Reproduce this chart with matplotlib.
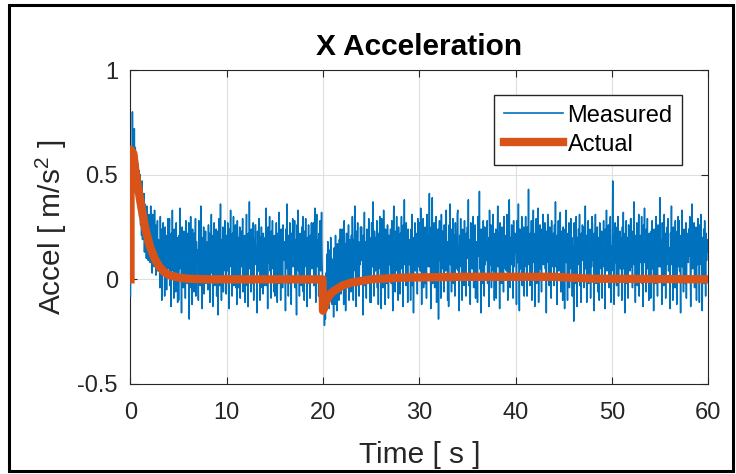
import matplotlib
matplotlib.use("Agg")
import matplotlib.pyplot as plt
import numpy as np
from matplotlib.patches import Rectangle

# measured acceleration, 20 samples per second over 0..60 s, in hundredths of m/s^2
measured_raw = [
    -8, 45, 62, 40, 80, 52, 70, 48, 72, 46, 63, 42, 60, 38, 57, 36, 55, 33, 52, 30,
    50, 26, 44, 21, 47, 19, 38, 24, 41, 13, 36, 18, 30, 10, 35, 15, 27, 9, 31, 12,
    29, 8, 35, 14, 24, 3, 31, 12, 20, 6, 33, 10, 26, 2, 22, 13, 28, 4, 19, 9,
    18, -4, 30, 11, 24, -10, 20, 7, 27, 3, 16, -8, 25, 9, 21, -5, 17, 6, 29, 5,
    15, 29, -3, 19, -13, 22, 4, 33, 7, 16, -9, 24, 9, 18, -6, 27, 6, 14, -11, 20,
    -10, 21, 5, 34, 8, 18, -16, 25, 10, 14, -4, 23, 7, 19, -9, 28, 11, 16, -2, 22,
    3, 27, -19, 17, 4, 30, -4, 19, -12, 24, 8, 15, -6, 22, 6, 29, -8, 18, 9, 14,
    12, -10, 28, 6, 16, -3, 35, 4, 20, -14, 14, 8, 25, -7, 19, 10, 23, -2, 17, 5,
    18, -5, 26, 7, 22, -11, 14, 9, 31, 3, 17, -13, 21, 11, 27, -3, 15, 6, 24, -8,
    5, 23, -17, 17, 29, -3, 13, 36, 8, -10, 19, 6, 25, -6, 16, 10, 28, 4, 12, -7,
    21, 4, 27, 10, 15, -14, 24, 12, 33, 6, 18, -8, 22, 9, 30, -3, 14, 7, 26, -4,
    17, -12, 28, 9, 20, -4, 14, 25, -9, 19, 6, 23, 11, 29, -6, 16, 8, 21, -11, 13,
    8, 31, -3, 13, -13, 22, 5, 37, 11, 18, -6, 24, 7, 16, -2, 27, -10, 19, 10, 26,
    26, 7, 15, -16, 23, 12, 4, 29, 16, -10, 20, -4, 25, 9, 17, -7, 22, 6, 14, -3,
    20, 10, 34, -3, 17, -14, 25, 8, 13, 30, 4, 19, -9, 23, 11, 28, 5, 15, -6, 21,
    -8, 19, 6, 27, 11, -11, 22, 14, -2, 32, 7, 16, -10, 24, 9, 20, -4, 26, 12, 18,
    9, 18, -15, 24, 12, 36, 5, 16, -8, 21, 8, 27, -2, 14, -12, 22, 10, 29, 6, 17,
    13, 28, -4, 19, 7, -17, 26, 10, 33, 4, 15, -8, 22, 9, 18, -3, 25, 11, 30, -6,
    17, -10, 23, 11, 29, 6, 15, -13, 20, 9, 26, -2, 14, -9, 21, 8, 27, 5, 16, 12,
    27, -3, 18, 34, 8, -11, 24, 31, 12, 6, 19, -8, 22, 10, 28, 4, 16, 32, 9, -2,
    -4, -14, 0, -22, -10, -19, 3, -13, 12, -9, 18, -7, 8, -14, 14, -5, 20, -3, 10, -12,
    -8, 9, -18, 15, 2, -12, 21, -4, 11, -15, 17, 3, 13, -10, 19, 6, 24, -7, 12, 4,
    24, -2, 13, -12, 28, 6, 17, -15, 10, 22, -4, 15, 7, 26, -10, 19, 9, 14, -6, 21,
    -4, 30, 8, -10, 19, 12, 35, 4, 16, -13, 23, 10, 27, -3, 18, -8, 14, 7, 25, 11,
    25, 9, 14, -17, 21, 7, 32, -3, 18, 11, -9, 24, 8, 16, -2, 29, 12, 20, -11, 15,
    -11, 27, 13, 6, 37, 10, -8, 23, 15, 4, 20, 8, 28, -4, 17, -12, 22, 12, 30, 5,
    20, -14, 29, 11, 17, -4, 33, 8, 14, -12, 24, 9, 19, -2, 26, 13, -9, 21, 7, 16,
    24, 12, -2, 28, 9, -15, 19, 35, 6, 16, -6, 23, 11, 30, 4, 18, -10, 25, 10, 14,
    -7, 22, 13, 30, 5, 18, -13, 26, 10, 38, 7, 20, -3, 27, 12, 15, -11, 24, 9, 19,
    7, 15, -10, 24, 12, 31, -3, 20, -16, 17, 8, 27, 4, 16, 11, 22, -7, 29, 6, 13,
    11, 27, 4, 34, 14, -12, 22, 8, 29, -4, 18, 10, 25, -2, 16, -9, 31, 9, 21, 6,
    18, 41, 6, 16, -14, 25, 12, 39, -2, 20, 9, 27, -4, 22, 14, 30, -11, 17, 8, 24,
    -19, 14, 28, 9, 19, -9, 31, 10, 23, 5, 16, -6, 26, 12, 20, 4, 33, 7, 18, -10,
    16, -13, 26, 13, 36, 7, 18, -6, 24, 11, 29, -2, 15, 21, -8, 27, 9, 19, 5, 31,
    33, 4, 15, -15, 21, 12, 29, 6, 17, -10, 24, 10, 19, -3, 28, 8, 14, -8, 22, 11,
    25, 10, 38, -3, 19, 13, -12, 27, 8, 22, 5, 16, 30, -4, 20, 12, 26, -9, 18, 9,
    14, -11, 30, 11, 18, 42, 5, 16, -16, 24, 9, 21, -2, 28, 13, -8, 25, 7, 19, 12,
    9, 28, -2, 20, 12, -13, 33, 15, 7, 26, -4, 18, 10, 31, 4, 22, -10, 17, 11, 24,
    -9, 19, 11, 35, 6, 22, 13, -14, 27, 10, 18, -2, 25, 9, 16, -6, 30, 12, 21, 5,
    17, 4, 31, 14, -10, 23, 9, 38, 12, -4, 20, 7, 26, 11, 17, -9, 28, 6, 15, 22,
    21, 15, -12, 28, 8, 18, 36, 11, -15, 24, 5, 19, 13, 30, -3, 17, 9, 25, -8, 14,
    13, 30, 6, 19, -8, 25, 10, 43, 7, 16, -3, 22, 12, 28, -10, 20, 8, 33, 11, 17,
    -13, 22, 12, 29, -2, 17, 9, 34, -11, 20, 11, 26, 5, 15, -6, 24, 13, 31, 7, 18,
    11, 27, 5, 15, -16, 23, 14, 31, 8, 18, -3, 25, 10, 20, -9, 28, 6, 16, 12, 22,
    -3, 26, 10, 37, 6, 16, -12, 21, 13, 28, 4, 19, 9, 32, -6, 23, 11, 17, -10, 25,
    4, 19, -14, 24, 11, 33, 8, 15, -10, 22, 10, 27, -4, 18, 12, 29, 5, 20, -8, 16,
    12, -20, 27, 9, 18, -2, 30, 10, -13, 20, 7, 24, 13, 31, -3, 17, -11, 22, 9, 26,
    14, 25, -4, 17, 8, 35, 5, 21, -11, 13, 9, 28, -2, 19, 11, 24, -9, 16, 6, 30,
    26, 9, 16, -15, 22, 11, 31, -2, 18, 7, 25, -6, 14, 20, -10, 27, 10, 17, 5, 23,
    -9, 20, 12, 28, 6, 15, -14, 24, 10, 33, 4, 18, 13, 26, -4, 21, 8, 30, -11, 16,
    4, 17, 47, 9, 21, -12, 14, 27, 8, 19, -3, 25, 11, 30, -8, 16, 10, 23, 5, 20,
    12, -10, 25, 11, 32, 5, 18, -16, 22, 10, 28, -2, 15, 20, -9, 26, 9, 17, 4, 29,
    29, 6, 15, -4, 23, 13, 37, 7, 16, -11, 21, 9, 27, -3, 19, 12, 31, -8, 18, 8,
    21, 9, 30, -2, 18, -13, 26, 12, 34, 8, 17, -6, 24, 11, 29, 5, 15, -10, 22, 13,
    14, -9, 23, 10, 28, 5, 17, -15, 24, 11, 19, -2, 30, 8, 16, -8, 26, 12, 21, 6,
    39, 6, 19, 13, -12, 27, 9, 16, -3, 31, 10, 22, -9, 18, 7, 25, 12, 29, 4, 15,
    12, -14, 22, 15, 35, 7, 18, -10, 25, 10, 20, -4, 28, 9, 16, -12, 23, 13, 30, 6,
    28, 4, 14, -16, 21, 12, 33, 6, 17, -6, 24, 10, 19, -2, 27, -9, 15, 11, 22, 8,
    24, 11, 30, 8, -13, 19, 13, 36, 5, 22, 9, 27, -4, 17, 12, 25, -10, 20, 7, 29,
    9, 16, -11, 26, 12, 31, 7, 18, -15, 20, 11, 24, -2, 28, 14, -8, 22, 9, 19, 13,
    14,
]

# true acceleration, read at a few points
actual_time = [0, 0, 0.3, 0.5, 1.0, 1.5, 2.0, 2.5, 3.0, 3.5, 4.0, 5.0, 6.0, 8.0,
               19.95, 20.0, 20.3, 20.6, 21.0, 22.0, 23.0, 25.0, 28.0, 35.0,
               44.0, 48.0, 60.0]
actual_value = [0, 0.62, 0.60, 0.52, 0.38, 0.25, 0.16, 0.10, 0.06, 0.035, 0.02,
                0.008, 0.003, 0.0, 0.0, -0.15, -0.11, -0.08, -0.06, -0.03,
                -0.015, 0.0, 0.008, 0.012, 0.012, 0.003, 0.0]

x_ticks = [0, 10, 20, 30, 40, 50, 60]
y_ticks = [-0.5, 0, 0.5, 1]
y_tick_labels = ["-0.5", "0", "0.5", "1"]

BLUE = "#0072BD"
ORANGE = "#D95319"
DARK = "#262626"

plt.rcParams["font.family"] = ["Liberation Sans", "DejaVu Sans"]
plt.rcParams["mathtext.default"] = "regular"

measured = np.array(measured_raw) / 100.0
measured_time = np.linspace(0, 60, len(measured))

fig = plt.figure(figsize=(7.36, 4.74), dpi=100)
ax = fig.add_axes([0.1773, 0.1899, 0.962 - 0.1773, 0.8523 - 0.1899])

ax.plot(measured_time, measured, color=BLUE, lw=1.1, label="Measured", zorder=3)
ax.plot(actual_time, actual_value, color=ORANGE, lw=6, label="Actual", zorder=4)

ax.set_xlim(0, 60)
ax.set_ylim(-0.5, 1)
ax.set_xticks(x_ticks)
ax.set_yticks(y_ticks)
ax.set_yticklabels(y_tick_labels)

ax.grid(True, color="#dfdfdf", lw=0.8)
ax.set_axisbelow(True)
for s in ax.spines.values():
    s.set_color(DARK)
    s.set_linewidth(0.8)
ax.tick_params(axis="both", direction="in", top=True, right=True, length=5,
               width=0.8, colors=DARK, labelsize=17)
ax.tick_params(axis="x", pad=13)
ax.tick_params(axis="y", pad=9)

ax.set_title("X Acceleration", fontsize=21.5, fontweight="bold", pad=11)
ax.set_xlabel("Time [ s ]", fontsize=21.5, color=DARK, labelpad=12)
ax.set_ylabel("Accel [ m/s$^2$ ]", fontsize=21.5, color=DARK, labelpad=6)

leg = ax.legend(loc="upper right", bbox_to_anchor=(0.955, 0.92), fontsize=17,
                fancybox=False, framealpha=1, edgecolor=DARK,
                handlelength=2.5, handletextpad=0.2, labelspacing=0.3,
                borderpad=0.4, borderaxespad=0)
leg.get_frame().set_linewidth(1.0)
leg.get_lines()[0].set_linewidth(1.2)

# outer frame around the whole figure
fig.patches.append(Rectangle((9 / 736, 3 / 474), 724 / 736, 466 / 474,
                             transform=fig.transFigure, fill=False,
                             edgecolor="black", lw=2.2))

fig.savefig("out.png", dpi=100)
